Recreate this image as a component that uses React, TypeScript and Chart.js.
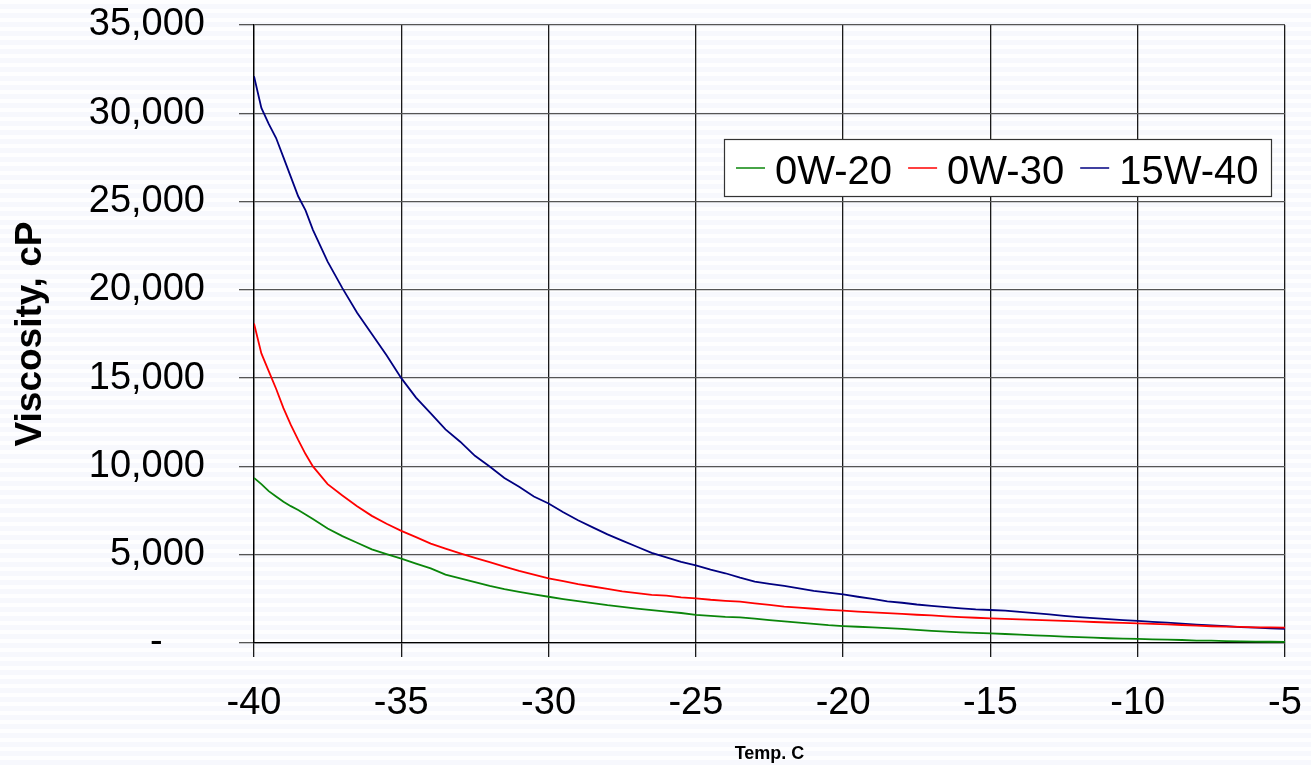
import React, { useEffect, useRef } from "react";
import { Chart, registerables } from "chart.js";

Chart.register(...registerables);

const temps = [
  -40, -39.75, -39.5, -39.25, -39, -38.75, -38.5, -38.25, -38,
  -37.5, -37, -36.5, -36, -35.5, -35, -34.5, -34, -33.5, -33, -32.5, -32,
  -31.5, -31, -30.5, -30, -29.5, -29, -28.5, -28, -27.5, -27, -26.5, -26,
  -25.5, -25, -24.5, -24, -23.5, -23, -22.5, -22, -21.5, -21, -20.5, -20,
  -19.5, -19, -18.5, -18, -17.5, -17, -16.5, -16, -15.5, -15, -14.5, -14,
  -13.5, -13, -12.5, -12, -11.5, -11, -10.5, -10, -9.5, -9, -8.5, -8,
  -7.5, -7, -6.5, -6, -5.5, -5,
];

const visc0W20 = [
  9350, 9000, 8600, 8300, 8000, 7750, 7530, 7280, 7020,
  6480, 6050, 5680, 5300, 5030, 4780, 4500, 4230, 3870, 3660, 3450, 3230,
  3050, 2900, 2760, 2620, 2490, 2370, 2260, 2140, 2040, 1950, 1860, 1780,
  1700, 1590, 1540, 1480, 1450, 1380, 1300, 1230, 1150, 1080, 1010, 960,
  920, 880, 840, 800, 740, 690, 640, 600, 570, 540, 510, 470,
  430, 400, 360, 330, 300, 270, 250, 230, 210, 190, 170, 140,
  130, 110, 90, 80, 70, 60,
];

const visc0W30 = [
  18100, 16400, 15400, 14400, 13300, 12350, 11500, 10700, 10000,
  9000, 8350, 7750, 7200, 6750, 6350, 6000, 5630, 5350, 5080, 4820, 4580,
  4330, 4080, 3870, 3660, 3500, 3330, 3200, 3060, 2920, 2820, 2730, 2680,
  2580, 2530, 2450, 2390, 2340, 2250, 2160, 2060, 2000, 1940, 1880, 1830,
  1780, 1730, 1690, 1650, 1600, 1560, 1510, 1470, 1430, 1400, 1370, 1340,
  1310, 1280, 1250, 1220, 1190, 1160, 1140, 1110, 1080, 1050, 1020, 980,
  950, 930, 910, 890, 880, 870,
];

const visc15W40 = [
  32100, 30300, 29400, 28600, 27500, 26400, 25300, 24500, 23400,
  21600, 20100, 18700, 17500, 16300, 15000, 13900, 13000, 12100, 11400, 10600, 10000,
  9350, 8850, 8300, 7900, 7400, 6950, 6550, 6150, 5800, 5450, 5100, 4850,
  4600, 4400, 4150, 3950, 3700, 3480, 3350, 3230, 3100, 2950, 2850, 2750,
  2620, 2500, 2360, 2280, 2180, 2100, 2030, 1960, 1900, 1870, 1830, 1760,
  1690, 1620, 1540, 1470, 1410, 1350, 1300, 1250, 1200, 1150, 1100, 1040,
  990, 950, 900, 870, 830, 800,
];

const seriesLabels = ["0W-20", "0W-30", "15W-40"];
const seriesColors = ["#0a850a", "#ff0000", "#000080"];
const seriesValues = [visc0W20, visc0W30, visc15W40];

const xTickValues = [-40, -35, -30, -25, -20, -15, -10, -5];
const xTickLabels = ["-40", "-35", "-30", "-25", "-20", "-15", "-10", "-5"];
const yTickLabels = ["-    ", "5,000", "10,000", "15,000", "20,000", "25,000", "30,000", "35,000"];

const FONT = "'Liberation Sans', Arial, Helvetica, sans-serif";

const legendPlugin = {
  id: "boxLegend",
  afterDraw(chart: any) {
    const ctx = chart.ctx as CanvasRenderingContext2D;
    const left = 724, top = 139, right = 1271, bottom = 196;
    ctx.save();
    ctx.fillStyle = "#ffffff";
    ctx.fillRect(left, top, right - left, bottom - top);
    ctx.strokeStyle = "#333333";
    ctx.lineWidth = 1.2;
    ctx.strokeRect(left + 0.5, top + 0.5, right - left, bottom - top);
    ctx.font = `40px ${FONT}`;
    ctx.textBaseline = "alphabetic";
    ctx.textAlign = "left";
    let x = 736;
    const midY = 168;
    chart.data.datasets.forEach((ds: any) => {
      ctx.strokeStyle = ds.borderColor;
      ctx.globalAlpha = 0.75;
      ctx.lineWidth = 2;
      ctx.beginPath();
      ctx.moveTo(x, midY);
      ctx.lineTo(x + 29, midY);
      ctx.stroke();
      ctx.globalAlpha = 1;
      ctx.fillStyle = "#000";
      const tx = x + 39;
      ctx.fillText(ds.label, tx, 184);
      x = tx + ctx.measureText(ds.label).width + 16;
    });
    ctx.restore();
  },
};

export default function App() {
  const ref = useRef<HTMLCanvasElement | null>(null);

  useEffect(() => {
    if (!ref.current) return;
    const chart = new Chart(ref.current, {
      type: "line",
      data: {
        datasets: seriesLabels.map((label, k) => ({
          label,
          data: temps.map((t, i) => ({ x: t, y: seriesValues[k][i] })),
          borderColor: seriesColors[k],
          backgroundColor: seriesColors[k],
          borderWidth: 1.8,
          pointRadius: 0,
          tension: 0,
          fill: false,
        })),
      },
      options: {
        animation: false,
        responsive: false,
        maintainAspectRatio: false,
        layout: { padding: { top: 25, right: 26, left: 0, bottom: 0 } },
        plugins: { legend: { display: false }, tooltip: { enabled: false } },
        scales: {
          x: {
            type: "linear",
            min: -40,
            max: -5,
            afterBuildTicks: (s: any) => {
              s.ticks = xTickValues.map((v) => ({ value: v }));
            },
            afterFit: (s: any) => {
              s.height = 122;
              s.paddingLeft = 0;
              s.paddingRight = 0;
              s.paddingTop = 0;
              s.paddingBottom = 0;
            },
            ticks: {
              autoSkip: false,
              maxRotation: 0,
              color: "#000",
              padding: 24,
              font: { family: FONT, size: 38 },
              callback: (_v: any, i: number) => xTickLabels[i],
            },
            grid: { color: "#1a1a1a", lineWidth: 1.3, tickLength: 14, drawTicks: true },
            border: { display: true, color: "#000", width: 1.3 },
            title: {
              display: true,
              text: "Temp. C",
              color: "#000",
              padding: 0,
              font: { family: FONT, size: 18, weight: "bold" },
            },
          },
          y: {
            type: "linear",
            min: 0,
            max: 35000,
            afterBuildTicks: (s: any) => {
              s.ticks = yTickLabels.map((_l, i) => ({ value: i * 5000 }));
            },
            afterFit: (s: any) => {
              s.width = 254;
              s.paddingLeft = 0;
              s.paddingRight = 0;
              s.paddingTop = 0;
              s.paddingBottom = 0;
            },
            ticks: {
              color: "#000",
              padding: 34,
              font: { family: FONT, size: 38 },
              callback: (_v: any, i: number) => yTickLabels[i],
            },
            grid: { color: "#555555", lineWidth: 1.3, tickLength: 15, drawTicks: true },
            border: { display: true, color: "#000", width: 1.3 },
            title: {
              display: true,
              text: "Viscosity, cP",
              color: "#000",
              padding: { top: 9, bottom: 0 },
              font: { family: FONT, size: 37, weight: "bold" },
            },
          },
        },
      },
      plugins: [legendPlugin],
    });
    return () => chart.destroy();
  }, []);

  return (
    <div
      style={{
        position: "absolute",
        left: 0,
        top: 0,
        width: 1311,
        height: 765,
        background:
          "repeating-linear-gradient(to bottom, #fefeff 0px, #fefeff 4px, #f7f8fd 4px, #f7f8fd 9px)",
      }}
    >
      <canvas ref={ref} width={1311} height={765} style={{ display: "block", width: 1311, height: 765 }} />
    </div>
  );
}
